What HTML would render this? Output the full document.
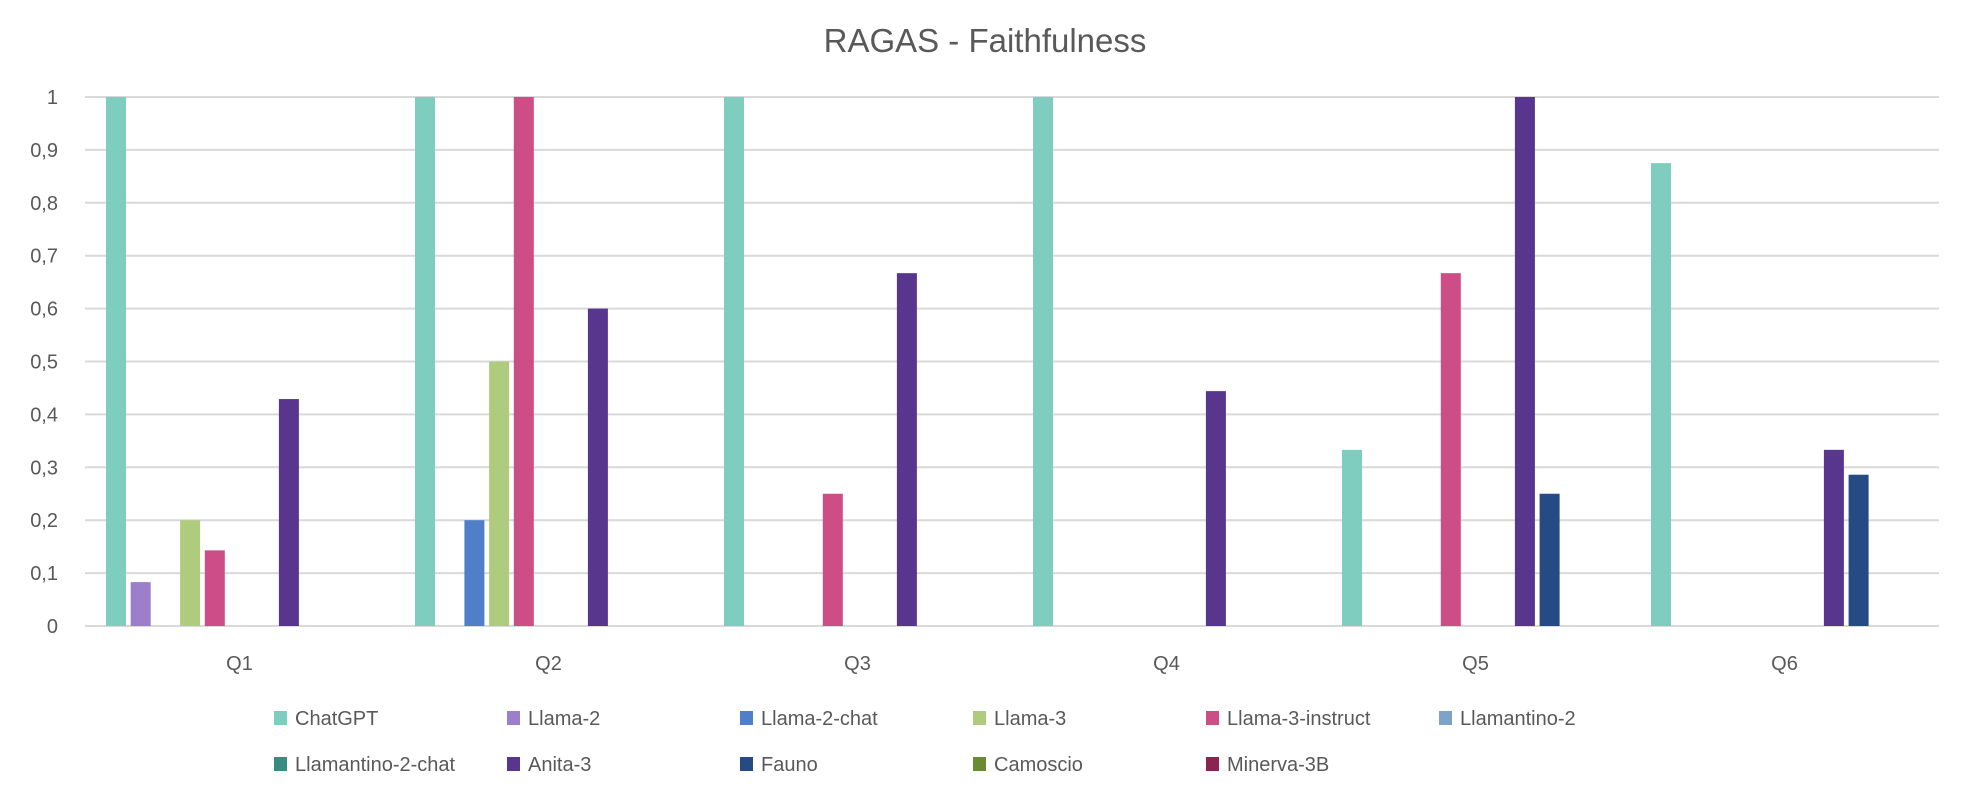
<!DOCTYPE html>
<html><head><meta charset="utf-8"><style>
html,body{margin:0;padding:0;background:#fff;}
svg{display:block;font-family:"Liberation Sans",sans-serif;}
</style></head><body>
<svg id="chart" width="1970" height="804" viewBox="0 0 1970 804">
<text x="985" y="52" text-anchor="middle" font-size="33" fill="#595959">RAGAS - Faithfulness</text>
<g id="grid"></g>
<g id="ylabels"></g>
<g id="bars"></g>
<g id="xlabels"></g>
<g id="legend"></g>
</svg>
<script>
const categories = ["Q1","Q2","Q3","Q4","Q5","Q6"];
const seriesNames = ["ChatGPT","Llama-2","Llama-2-chat","Llama-3","Llama-3-instruct","Llamantino-2","Llamantino-2-chat","Anita-3","Fauno","Camoscio","Minerva-3B"];
const seriesColors = ["#7fcdbf","#9b7fcb","#4f7fc9","#afcc7e","#cd4d86","#7fa3c8","#378b7f","#58368d","#264a83","#6a8b33","#8b2452"];
const chatgpt = [1,1,1,1,0.333,0.875];
const llama2 = [0.083,0,0,0,0,0];
const llama2chat = [0,0.2,0,0,0,0];
const llama3 = [0.2,0.5,0,0,0,0];
const llama3instruct = [0.143,1,0.25,0,0.667,0];
const llamantino2 = [0,0,0,0,0,0];
const llamantino2chat = [0,0,0,0,0,0];
const anita3 = [0.429,0.6,0.667,0.444,1,0.333];
const fauno = [0,0,0,0,0.25,0.286];
const camoscio = [0,0,0,0,0,0];
const minerva = [0,0,0,0,0,0];
const seriesValues = [chatgpt,llama2,llama2chat,llama3,llama3instruct,llamantino2,llamantino2chat,anita3,fauno,camoscio,minerva];
const yTicks = [0,0.1,0.2,0.3,0.4,0.5,0.6,0.7,0.8,0.9,1];
const yTickLabels = ["0","0,1","0,2","0,3","0,4","0,5","0,6","0,7","0,8","0,9","1"];

const NS="http://www.w3.org/2000/svg";
const plotL=85, plotR=1939, y0=626, y1=97;
const catW=(plotR-plotL)/categories.length;
const slot=24.7, barW=20;
const yScale=v=>y0-(y0-y1)*v;
const xCat=i=>plotL+i*catW;
function mk(tag,attrs,parent){const e=document.createElementNS(NS,tag);for(const k in attrs)e.setAttribute(k,attrs[k]);parent.appendChild(e);return e;}
const grid=document.getElementById('grid'), yl=document.getElementById('ylabels'), bars=document.getElementById('bars'), xl=document.getElementById('xlabels'), lg=document.getElementById('legend');
yTicks.forEach((t,i)=>{
  const y=yScale(t);
  const l=mk('line',{x1:plotL,x2:plotR,y1:y,y2:y,stroke:'#d9d9d9','stroke-width':2},grid);
  
  
  const tx=mk('text',{x:58,y:y+7,'text-anchor':'end','font-size':20,fill:'#595959'},yl);
  tx.textContent=yTickLabels[i];
  
  
});
const startOff=(catW-seriesNames.length*slot)/2+(slot-barW)/2;
categories.forEach((c,ci)=>{
  seriesValues.forEach((arr,si)=>{
    const v=arr[ci]; if(!v) return;
    const x=xCat(ci)+startOff+si*slot;
    const r=mk('rect',{x:x,y:yScale(v),width:barW,height:y0-yScale(v),fill:seriesColors[si]},bars);
    
    
  });
  const t=mk('text',{x:xCat(ci)+catW/2,y:670,'text-anchor':'middle','font-size':20,fill:'#595959'},xl);
  t.textContent=c;
  
  
});
seriesNames.forEach((n,i)=>{
  const col=i<6?i:i-6, row=i<6?0:1;
  const x=274+col*233, y=row?764:718;
  const g=mk('g',{},lg);
  
  
  mk('rect',{x:x,y:y-7,width:13,height:14,fill:seriesColors[i]},g);
  const t=mk('text',{x:x+21,y:y+7,'font-size':20,fill:'#595959'},g);
  t.textContent=n;
});
</script>
</body></html>
